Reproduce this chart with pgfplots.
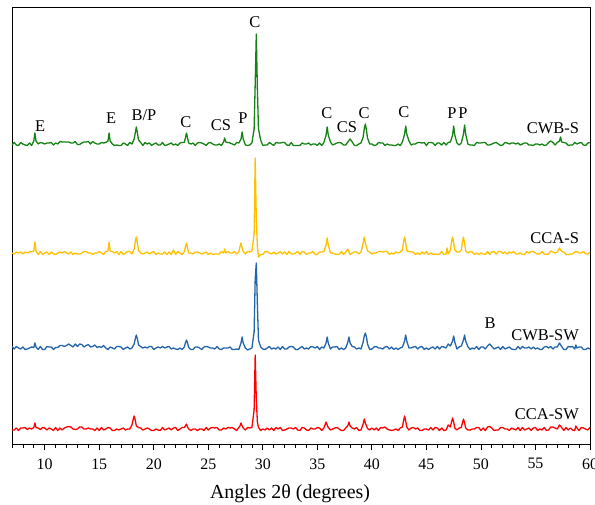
\documentclass[border=0pt]{standalone}
\usepackage{fontspec}
\setmainfont{Liberation Serif}
\usepackage{pgfplots}
\pgfplotsset{compat=1.18}

\definecolor{cgreen}{RGB}{20,130,20}
\definecolor{cyellow}{RGB}{255,192,0}
\definecolor{cblue}{RGB}{35,100,170}
\definecolor{cred}{RGB}{255,0,0}
\newcommand\lbl{\fontsize{16.5}{19}\selectfont}

\begin{document}
\begin{tikzpicture}
\begin{axis}[
  at={(0,0)}, anchor=south west,
  scale only axis, width=578bp, height=436bp,
  xmin=7, xmax=60, ymin=0, ymax=436,
  xtick={10,15,...,60},
  minor xtick={7,8,...,60},
  ytick=\empty,
  xtick pos=bottom,
  tick align=outside,
  major tick length=6bp, minor tick length=3.5bp,
  every tick/.style={black, line width=0.8bp},
  axis line style={line width=1bp},
  /pgf/number format/assume math mode=true,
  xticklabel style={font=\fontsize{16}{19}\selectfont, yshift=-5bp},
  xlabel={Angles 2θ (degrees)},
  xlabel style={font=\fontsize{20}{24}\selectfont, at={(axis description cs:0.481,-0.124)}, anchor=base},
  every axis plot/.append style={line width=1.3bp, line join=round},
]
% CWB-S
\addplot[cgreen] coordinates {
(7.0,299)(7.2,301.5)(7.4,299)(7.6,298.5)(7.8,301.5)
(8.0,300)(8.2,299)(8.4,298.5)(8.6,301)(8.8,298.5)
(9.0,303)(9.1,311)(9.2,303)(9.4,300)(9.6,301.5)(9.8,301)
(10.0,300)(10.2,301)(10.4,301)(10.6,301.5)(10.8,299)
(11.0,301)(11.2,300)(11.4,302.5)(11.6,302)(11.8,302)
(12.0,302)(12.2,302)(12.4,301)(12.6,301)(12.8,302.5)
(13.0,299.5)(13.2,299.5)(13.4,301)(13.6,302)(13.8,302)
(14.0,302.5)(14.2,300)(14.4,302.5)(14.6,301)(14.8,300)
(15.0,300)(15.2,301.5)(15.4,301)(15.6,301.5)(15.8,303)(15.9,311)
(16.0,303)(16.2,300)(16.4,298.5)(16.6,299)(16.8,298.5)
(17.0,298.5)(17.2,301)(17.4,300)(17.6,298.5)(17.8,301.5)
(18.0,300)(18.2,305)(18.3,311)(18.4,317)(18.5,311)(18.6,304)(18.8,301.5)
(19.0,298.5)(19.2,301.5)(19.4,300)(19.6,301)(19.8,298.5)
(20.0,300)(20.2,301)(20.4,299)(20.6,299)(20.8,301.5)
(21.0,298.5)(21.2,299)(21.4,300)(21.6,301)(21.8,299)
(22.0,300)(22.2,298.5)(22.4,301)(22.6,301.5)(22.8,301.5)(22.9,306)
(23.0,311)(23.1,306)(23.2,301)(23.4,300)(23.6,301)(23.8,298.5)
(24.0,301)(24.2,301.5)(24.4,301)(24.6,300)(24.8,298.5)
(25.0,301)(25.2,301.5)(25.4,300)(25.6,299)(25.8,299)
(26.0,300)(26.2,298.5)(26.4,302)(26.5,306)(26.6,302)(26.8,301.5)
(27.0,301)(27.2,300)(27.4,299)(27.6,301.5)(27.8,301)
(28.0,305)(28.1,312)(28.2,305)(28.4,299)(28.6,298.5)(28.8,299)
(29.0,301)(29.2,315)(29.3,360)(29.4,410)(29.5,355)(29.6,315)(29.8,304)
(30.0,298.5)(30.2,299)(30.4,299)(30.6,301.5)(30.8,300)
(31.0,298.5)(31.2,301.5)(31.4,301)(31.6,301)(31.8,301.5)
(32.0,301.5)(32.2,299)(32.4,298.5)(32.6,301.5)(32.8,298.5)
(33.0,298.5)(33.2,298.5)(33.4,298.5)(33.6,301)(33.8,300)
(34.0,300)(34.2,301)(34.4,299)(34.6,300)(34.8,300)
(35.0,298.5)(35.2,301)(35.4,298.5)(35.6,301.5)(35.8,309)(35.9,317)
(36.0,309)(36.2,302)(36.4,299)(36.6,300)(36.8,301)
(37.0,301.5)(37.2,301)(37.4,299)(37.6,299)(37.8,302)
(38.0,305)(38.2,302)(38.4,298.5)(38.6,298.5)(38.8,300)
(39.0,301)(39.2,307)(39.3,315)(39.4,320)(39.5,314)(39.6,306)(39.8,300)
(40.0,300)(40.2,298.5)(40.4,299)(40.6,301.5)(40.8,301)
(41.0,301)(41.2,298.5)(41.4,300)(41.6,299)(41.8,299)
(42.0,298.5)(42.2,298.5)(42.4,300)(42.6,298.5)(42.8,302)
(43.0,310)(43.1,318)(43.2,310)(43.4,303)(43.6,299)(43.8,300)
(44.0,300)(44.2,301.5)(44.4,301.5)(44.6,301)(44.8,301.5)
(45.0,298.5)(45.2,301.5)(45.4,301.5)(45.6,301)(45.8,298.5)
(46.0,301)(46.2,301)(46.4,299)(46.6,301.5)(46.8,299)
(47.0,301.5)(47.2,302)(47.4,309)(47.5,318)(47.6,309)(47.8,301)
(48.0,299)(48.2,301)(48.4,310)(48.5,319)(48.6,310)(48.8,300)
(49.0,299)(49.2,299)(49.4,298.5)(49.6,301.5)(49.8,301)
(50.0,301)(50.2,301.5)(50.4,301.5)(50.6,299)(50.8,299)
(51.0,300)(51.2,301)(51.4,301.5)(51.6,300)(51.8,298.5)
(52.0,299)(52.2,301.5)(52.4,301)(52.6,300)(52.8,301)
(53.0,301)(53.2,300)(53.4,301)(53.6,299)(53.8,300)
(54.0,301)(54.2,301)(54.4,299)(54.6,299)(54.8,298.5)
(55.0,300)(55.2,300)(55.4,299)(55.6,300)(55.8,298.5)
(56.0,299)(56.2,301.5)(56.4,303)(56.6,301.5)(56.8,299)
(57.0,301.5)(57.2,303)(57.3,307)(57.4,302)(57.6,301.5)(57.8,301)
(58.0,298.5)(58.2,299)(58.4,299)(58.6,301.5)(58.8,300)
(59.0,301)(59.2,301.5)(59.4,299)(59.6,298.5)(59.8,301)(60.0,301.5)
};
% CCA-S
\addplot[cyellow] coordinates {
(7.0,191)(7.2,190)(7.4,192)(7.6,191)(7.8,192)
(8.0,190)(8.2,192)(8.4,191)(8.6,192)(8.8,192.5)
(9.0,193)(9.1,202)(9.2,193)(9.4,189.5)(9.6,192.5)(9.8,189.5)
(10.0,191)(10.2,192)(10.4,189.5)(10.6,192)(10.8,190)
(11.0,189.5)(11.2,191)(11.4,192)(11.6,191)(11.8,192.5)
(12.0,191)(12.2,190)(12.4,192)(12.6,189.5)(12.8,191)
(13.0,190)(13.2,190)(13.4,191)(13.6,192.5)(13.8,192.5)
(14.0,191)(14.2,191)(14.4,189.5)(14.6,191)(14.8,191)
(15.0,192.5)(15.2,191)(15.4,189.5)(15.6,192.5)(15.8,193)(15.9,202)
(16.0,193)(16.2,192.5)(16.4,191)(16.6,192.5)(16.8,189.5)
(17.0,192.5)(17.2,189.5)(17.4,191)(17.6,192.5)(17.8,192.5)
(18.0,190)(18.2,195)(18.3,202)(18.4,207)(18.5,201)(18.6,194)(18.8,191)
(19.0,190)(19.2,191)(19.4,192)(19.6,190)(19.8,191.5)
(20.0,192.5)(20.2,189.5)(20.4,191)(20.6,190)(20.8,190)
(21.0,192)(21.2,189.5)(21.4,192)(21.6,189.5)(21.8,194)
(22.0,189.5)(22.2,192.5)(22.4,191)(22.6,189.5)(22.8,192.5)(22.9,197)
(23.0,201)(23.1,196)(23.2,191)(23.4,191)(23.6,190)(23.8,192)
(24.0,192)(24.2,191)(24.4,190)(24.6,191)(24.8,192)
(25.0,189.5)(25.2,191)(25.4,189.5)(25.6,190)(25.8,190)
(26.0,190)(26.2,192.5)(26.4,191)(26.5,195)(26.6,191)(26.8,192.5)
(27.0,191)(27.2,191)(27.4,192.5)(27.6,190)(27.8,192)(27.9,197)
(28.0,201)(28.1,196)(28.2,192.5)(28.4,190)(28.6,192.5)(28.8,192)
(29.0,193)(29.2,210)(29.3,286)(29.4,225)(29.5,198)(29.6,187)(29.8,189.5)
(30.0,189.5)(30.2,192.5)(30.4,192.5)(30.6,191)(30.8,190)
(31.0,192)(31.2,190)(31.4,191)(31.6,192.5)(31.8,190)
(32.0,192)(32.2,189.5)(32.4,192.5)(32.6,190)(32.8,190)
(33.0,191)(33.2,192.5)(33.4,189.5)(33.6,192.5)(33.8,192)
(34.0,189.5)(34.2,191)(34.4,191)(34.6,192.5)(34.8,189.5)
(35.0,189.5)(35.2,192)(35.4,192)(35.6,192.5)(35.8,199)(35.9,206)
(36.0,199)(36.2,191)(36.4,191)(36.6,190)(36.8,189.5)
(37.0,189.5)(37.2,192.5)(37.4,189.5)(37.6,192)(37.8,195)
(38.0,189.5)(38.2,191)(38.4,192)(38.6,192)(38.8,190)
(39.0,192)(39.2,201)(39.3,207)(39.4,201)(39.6,193)(39.8,192)
(40.0,190)(40.2,191)(40.4,191)(40.6,192.5)(40.8,192.5)
(41.0,192)(41.2,192.5)(41.4,192.5)(41.6,189.5)(41.8,191)
(42.0,190)(42.2,192)(42.4,191)(42.6,192)(42.8,194)(42.9,202)
(43.0,207)(43.1,201)(43.2,193)(43.4,192.5)(43.6,192)(43.8,192)
(44.0,189.5)(44.2,191)(44.4,189.5)(44.6,192)(44.8,190)
(45.0,192.5)(45.2,189.5)(45.4,191)(45.6,189.5)(45.8,190)
(46.0,189.5)(46.2,190)(46.4,192.5)(46.6,189.5)(46.8,190)(46.9,196)
(47.0,190)(47.2,194)(47.3,202)(47.4,207)(47.5,201)(47.6,194)(47.8,192)
(48.0,192)(48.2,194)(48.3,202)(48.4,207)(48.5,201)(48.6,193)(48.8,191)
(49.0,192.5)(49.2,192)(49.4,189.5)(49.6,191)(49.8,189.5)
(50.0,191)(50.2,190)(50.4,189.5)(50.6,192.5)(50.8,189.5)
(51.0,192)(51.2,192.5)(51.4,190)(51.6,192.5)(51.8,192.5)
(52.0,190.5)(52.2,192)(52.4,190)(52.6,192)(52.8,191)
(53.0,192.5)(53.2,190)(53.4,190)(53.6,191)(53.8,189.5)
(54.0,189.5)(54.2,192.5)(54.4,191)(54.6,192.5)(54.8,192.5)
(55.0,191)(55.2,190)(55.4,190)(55.6,192.5)(55.8,190)
(56.0,189.5)(56.2,190)(56.4,193)(56.6,192)(56.8,191)
(57.0,192)(57.2,196)(57.4,192.5)(57.6,192)(57.8,189.5)
(58.0,189.5)(58.2,190)(58.4,190)(58.6,192)(58.8,192.5)
(59.0,191)(59.2,191)(59.4,192.5)(59.6,190)(59.8,190)(60.0,192)
};
% CWB-SW
\addplot[cblue] coordinates {
(7.0,97.5)(7.2,95)(7.4,97.5)(7.6,96)(7.8,95)
(8.0,97)(8.2,94.5)(8.4,95)(8.6,96)(8.8,97)
(9.0,96.5)(9.1,101)(9.2,97)(9.4,94.5)(9.6,97.5)(9.8,94.5)
(10.0,94.5)(10.2,97.5)(10.4,97)(10.6,97)(10.8,94.5)
(11.0,96.5)(11.2,96.5)(11.4,98.5)(11.6,98.5)(11.8,97.5)
(12.0,98.5)(12.2,100)(12.4,98.5)(12.6,97)(12.8,100)
(13.0,97.5)(13.2,100)(13.4,99.5)(13.6,97)(13.8,98.5)
(14.0,99.5)(14.2,97)(14.4,97.5)(14.6,99)(14.8,96.5)
(15.0,97.5)(15.2,96.5)(15.4,98.5)(15.6,96)(15.8,94.5)
(16.0,97)(16.2,96)(16.4,95)(16.6,97.5)(16.8,97.5)
(17.0,97)(17.2,94.5)(17.4,96)(17.6,97)(17.8,95)
(18.0,96)(18.2,100)(18.3,105)(18.4,109)(18.5,105)(18.6,99)(18.8,97.5)
(19.0,96)(19.2,97)(19.4,96)(19.6,97.5)(19.8,97.5)
(20.0,94.5)(20.2,96)(20.4,97)(20.6,96)(20.8,97.5)
(21.0,96)(21.2,97)(21.4,97.5)(21.6,95)(21.8,96)
(22.0,95)(22.2,94.5)(22.4,96)(22.6,94.5)(22.8,97)(22.9,101)
(23.0,104)(23.1,101)(23.2,96.5)(23.4,94.5)(23.6,94.5)(23.8,97)
(24.0,97)(24.2,96)(24.4,94.5)(24.6,97)(24.8,97.5)
(25.0,97)(25.2,96)(25.4,96)(25.6,95)(25.8,97.5)
(26.0,95)(26.2,94.5)(26.4,96)(26.6,96)(26.8,96)
(27.0,97)(27.2,94.5)(27.4,94.5)(27.6,95)(27.8,94.5)
(28.0,101)(28.1,107)(28.2,101)(28.4,96)(28.6,94)(28.8,95)
(29.0,96)(29.2,112)(29.3,165)(29.4,181)(29.5,140)(29.6,104)(29.8,97)
(30.0,95)(30.2,94.5)(30.4,96)(30.6,97.5)(30.8,95)
(31.0,96)(31.2,95)(31.4,97)(31.6,94.5)(31.8,97.5)
(32.0,95)(32.2,95)(32.4,97)(32.6,97.5)(32.8,97)
(33.0,94.5)(33.2,94.5)(33.4,96)(33.6,97.5)(33.8,95)
(34.0,96)(34.2,95)(34.4,97.5)(34.6,97)(34.8,96)
(35.0,97.5)(35.2,94.5)(35.4,97)(35.6,96)(35.8,101)(35.9,107)
(36.0,101)(36.2,95)(36.4,97)(36.6,97)(36.8,97.5)
(37.0,94.5)(37.2,96)(37.4,94.5)(37.6,96)(37.8,102)(37.9,107)
(38.0,101)(38.2,97.5)(38.4,97)(38.6,95)(38.8,96)
(39.0,95)(39.2,102)(39.3,108)(39.4,111)(39.5,107)(39.6,100)(39.8,94.5)
(40.0,95)(40.2,97)(40.4,97.5)(40.6,96)(40.8,96)
(41.0,95)(41.2,97)(41.4,97.5)(41.6,95)(41.8,97)
(42.0,94.5)(42.2,96)(42.4,94.5)(42.6,96)(42.8,97)
(43.0,103)(43.1,109)(43.2,103)(43.4,96)(43.6,96)(43.8,97)
(44.0,97.5)(44.2,95)(44.4,97)(44.6,97.5)(44.8,94.5)
(45.0,96)(45.2,94.5)(45.4,96)(45.6,97)(45.8,95)
(46.0,97.5)(46.2,95)(46.4,97.5)(46.6,97)(46.8,96)
(47.0,100)(47.2,98)(47.4,103)(47.5,108)(47.6,102)(47.8,95)
(48.0,97)(48.2,98)(48.4,104)(48.5,109)(48.6,103)(48.8,97.5)
(49.0,94.5)(49.2,96)(49.4,95)(49.6,97.5)(49.8,94.5)
(50.0,97)(50.2,97)(50.4,95)(50.6,98)(50.8,100)
(51.0,97.5)(51.2,95)(51.4,96)(51.6,97)(51.8,94.5)
(52.0,97.5)(52.2,95)(52.4,96)(52.6,97)(52.8,95)
(53.0,94.5)(53.2,94.5)(53.4,97.5)(53.6,95)(53.8,97.5)
(54.0,96)(54.2,96)(54.4,97)(54.6,95)(54.8,97)
(55.0,95)(55.2,96)(55.4,94.5)(55.6,94.5)(55.8,97)
(56.0,97.5)(56.2,96)(56.4,97.5)(56.6,95)(56.8,97)
(57.0,97)(57.2,101)(57.4,97.5)(57.6,94.5)(57.8,94.5)
(58.0,97.5)(58.2,97)(58.4,97.5)(58.6,95)(58.7,99)(58.8,96)
(59.0,97)(59.2,97)(59.4,94.5)(59.6,94.5)(59.8,96)(60.0,95)
};
% CCA-SW
\addplot[cred] coordinates {
(7.0,14)(7.2,14)(7.4,16)(7.6,13.5)(7.8,16)
(8.0,16)(8.2,16.5)(8.4,14.5)(8.6,16)(8.8,15)
(9.0,16.5)(9.1,21)(9.2,16.5)(9.4,16)(9.6,14.5)(9.8,16.5)
(10.0,16)(10.2,14)(10.4,16)(10.6,15)(10.8,13.5)
(11.0,16.5)(11.2,13.5)(11.4,16)(11.6,14)(11.8,16)
(12.0,17)(12.2,17.5)(12.4,17)(12.6,15)(12.8,14.5)
(13.0,15)(13.2,17)(13.4,17)(13.6,15)(13.8,15)
(14.0,16)(14.2,15)(14.4,15)(14.6,13.5)(14.8,16)
(15.0,13.5)(15.2,16.5)(15.4,14)(15.6,15)(15.8,16.5)
(16.0,16)(16.2,13.5)(16.4,13.5)(16.6,15)(16.8,14)
(17.0,15)(17.2,16)(17.4,14)(17.6,15)(17.8,15)
(18.0,19)(18.1,24)(18.2,28)(18.3,24)(18.4,18)(18.6,16.5)(18.8,16)
(19.0,14)(19.2,15)(19.4,16)(19.6,15)(19.8,13.5)
(20.0,13.5)(20.2,15)(20.4,14)(20.6,13.5)(20.8,16.5)
(21.0,14)(21.2,15)(21.4,16)(21.6,14)(21.8,16)
(22.0,16.5)(22.2,13.5)(22.4,15)(22.6,16.5)(22.8,16.5)(22.9,18)
(23.0,20)(23.1,17)(23.2,15)(23.4,13.5)(23.6,15)(23.8,15)
(24.0,13.5)(24.2,15)(24.4,15)(24.6,13.5)(24.8,16.5)
(25.0,14)(25.2,16)(25.4,16.5)(25.6,16)(25.8,16.5)
(26.0,14)(26.2,14)(26.4,16)(26.6,15)(26.8,16.5)
(27.0,16)(27.2,16.5)(27.4,15)(27.6,13.5)(27.8,16.5)(27.9,18)
(28.0,21)(28.1,18)(28.2,16)(28.4,14)(28.6,16.5)(28.8,16)
(29.0,16.5)(29.2,34)(29.3,89)(29.4,45)(29.5,22)(29.6,16.5)(29.8,13.5)
(30.0,15)(30.2,14)(30.4,16)(30.6,14)(30.8,16)
(31.0,13.5)(31.2,16.5)(31.4,15)(31.6,16.5)(31.8,13.5)
(32.0,14)(32.2,15)(32.4,16)(32.6,16)(32.8,15)
(33.0,16.5)(33.2,14)(33.4,13.5)(33.6,16.5)(33.8,16)
(34.0,14)(34.2,13.5)(34.4,16)(34.6,15)(34.8,15)
(35.0,16.5)(35.2,16)(35.4,13.5)(35.6,16)(35.7,19)(35.8,22)(35.9,19)
(36.0,16.5)(36.2,14)(36.4,15)(36.6,16)(36.8,16.5)
(37.0,15)(37.2,13.5)(37.4,13.5)(37.6,16)(37.8,18.5)(37.9,22)
(38.0,18)(38.2,16)(38.4,15)(38.6,16.5)(38.8,13.5)
(39.0,14)(39.2,20)(39.3,25)(39.4,21)(39.6,15.5)(39.8,14)
(40.0,16)(40.2,14)(40.4,16)(40.6,13.5)(40.8,16.5)
(41.0,16)(41.2,17)(41.4,15)(41.6,14)(41.8,13.5)
(42.0,14)(42.2,15)(42.4,13.5)(42.6,16)(42.8,17)(42.9,23)
(43.0,28)(43.1,23)(43.2,17)(43.4,14)(43.6,16)(43.8,16.5)
(44.0,15)(44.2,16)(44.4,13.5)(44.6,13.5)(44.8,15)
(45.0,15)(45.2,14)(45.4,16.5)(45.6,14)(45.8,16.5)
(46.0,16)(46.2,13.5)(46.4,16)(46.6,13.5)(46.8,14)
(47.0,19)(47.2,17)(47.3,22)(47.4,26)(47.5,22)(47.6,16)(47.8,14)
(48.0,16)(48.2,16.5)(48.3,21)(48.4,25)(48.5,21)(48.6,16)(48.8,14)
(49.0,14)(49.2,15)(49.4,15)(49.6,16.5)(49.8,16.5)
(50.0,13.5)(50.2,16)(50.4,13.5)(50.6,17)(50.8,17.5)
(51.0,16)(51.2,13.5)(51.4,14)(51.6,14)(51.8,16.5)
(52.0,16.5)(52.2,15)(52.4,15)(52.6,13.5)(52.8,16)
(53.0,15)(53.2,14)(53.4,16.5)(53.6,13.5)(53.8,16.5)
(54.0,14)(54.2,15)(54.4,16)(54.6,13.5)(54.8,16)
(55.0,16.5)(55.2,13.5)(55.4,15)(55.6,14)(55.8,16.5)
(56.0,13.5)(56.2,14)(56.4,17)(56.6,17)(56.8,16)
(57.0,15)(57.2,19)(57.4,16.5)(57.6,13.5)(57.8,16.5)
(58.0,14)(58.2,16)(58.4,14)(58.6,13.5)(58.7,18)(58.8,16)
(59.0,13.5)(59.2,16.5)(59.4,16)(59.6,15)(59.8,14)(60.0,16.5)
};

% phase labels on the top pattern
\begin{scope}[every node/.style={font=\lbl, inner sep=0pt}]
\node at (axis cs:9.57,318) {E};
\node at (axis cs:16.08,326) {E};
\node at (axis cs:19.1,329) {B/P};
\node at (axis cs:22.95,322) {C};
\node at (axis cs:26.16,319) {CS};
\node at (axis cs:28.18,326) {P};
\node at (axis cs:29.28,422) {C};
\node at (axis cs:35.88,331) {C};
\node at (axis cs:37.72,317) {CS};
\node at (axis cs:39.28,331) {C};
\node at (axis cs:42.94,332) {C};
\node at (axis cs:47.34,331) {P};
\node at (axis cs:48.35,331) {P};
\node at (axis cs:50.83,121) {B};
% sample names
\node[anchor=east] at (axis cs:59.0,316) {CWB-S};
\node[anchor=east] at (axis cs:59.0,206) {CCA-S};
\node[anchor=east] at (axis cs:59.0,109) {CWB-SW};
\node[anchor=east] at (axis cs:59.0,30) {CCA-SW};
\end{scope}
\end{axis}
\pgfresetboundingbox
\path (-12bp,-61bp) rectangle (583bp,444bp);
\end{tikzpicture}
\end{document}
